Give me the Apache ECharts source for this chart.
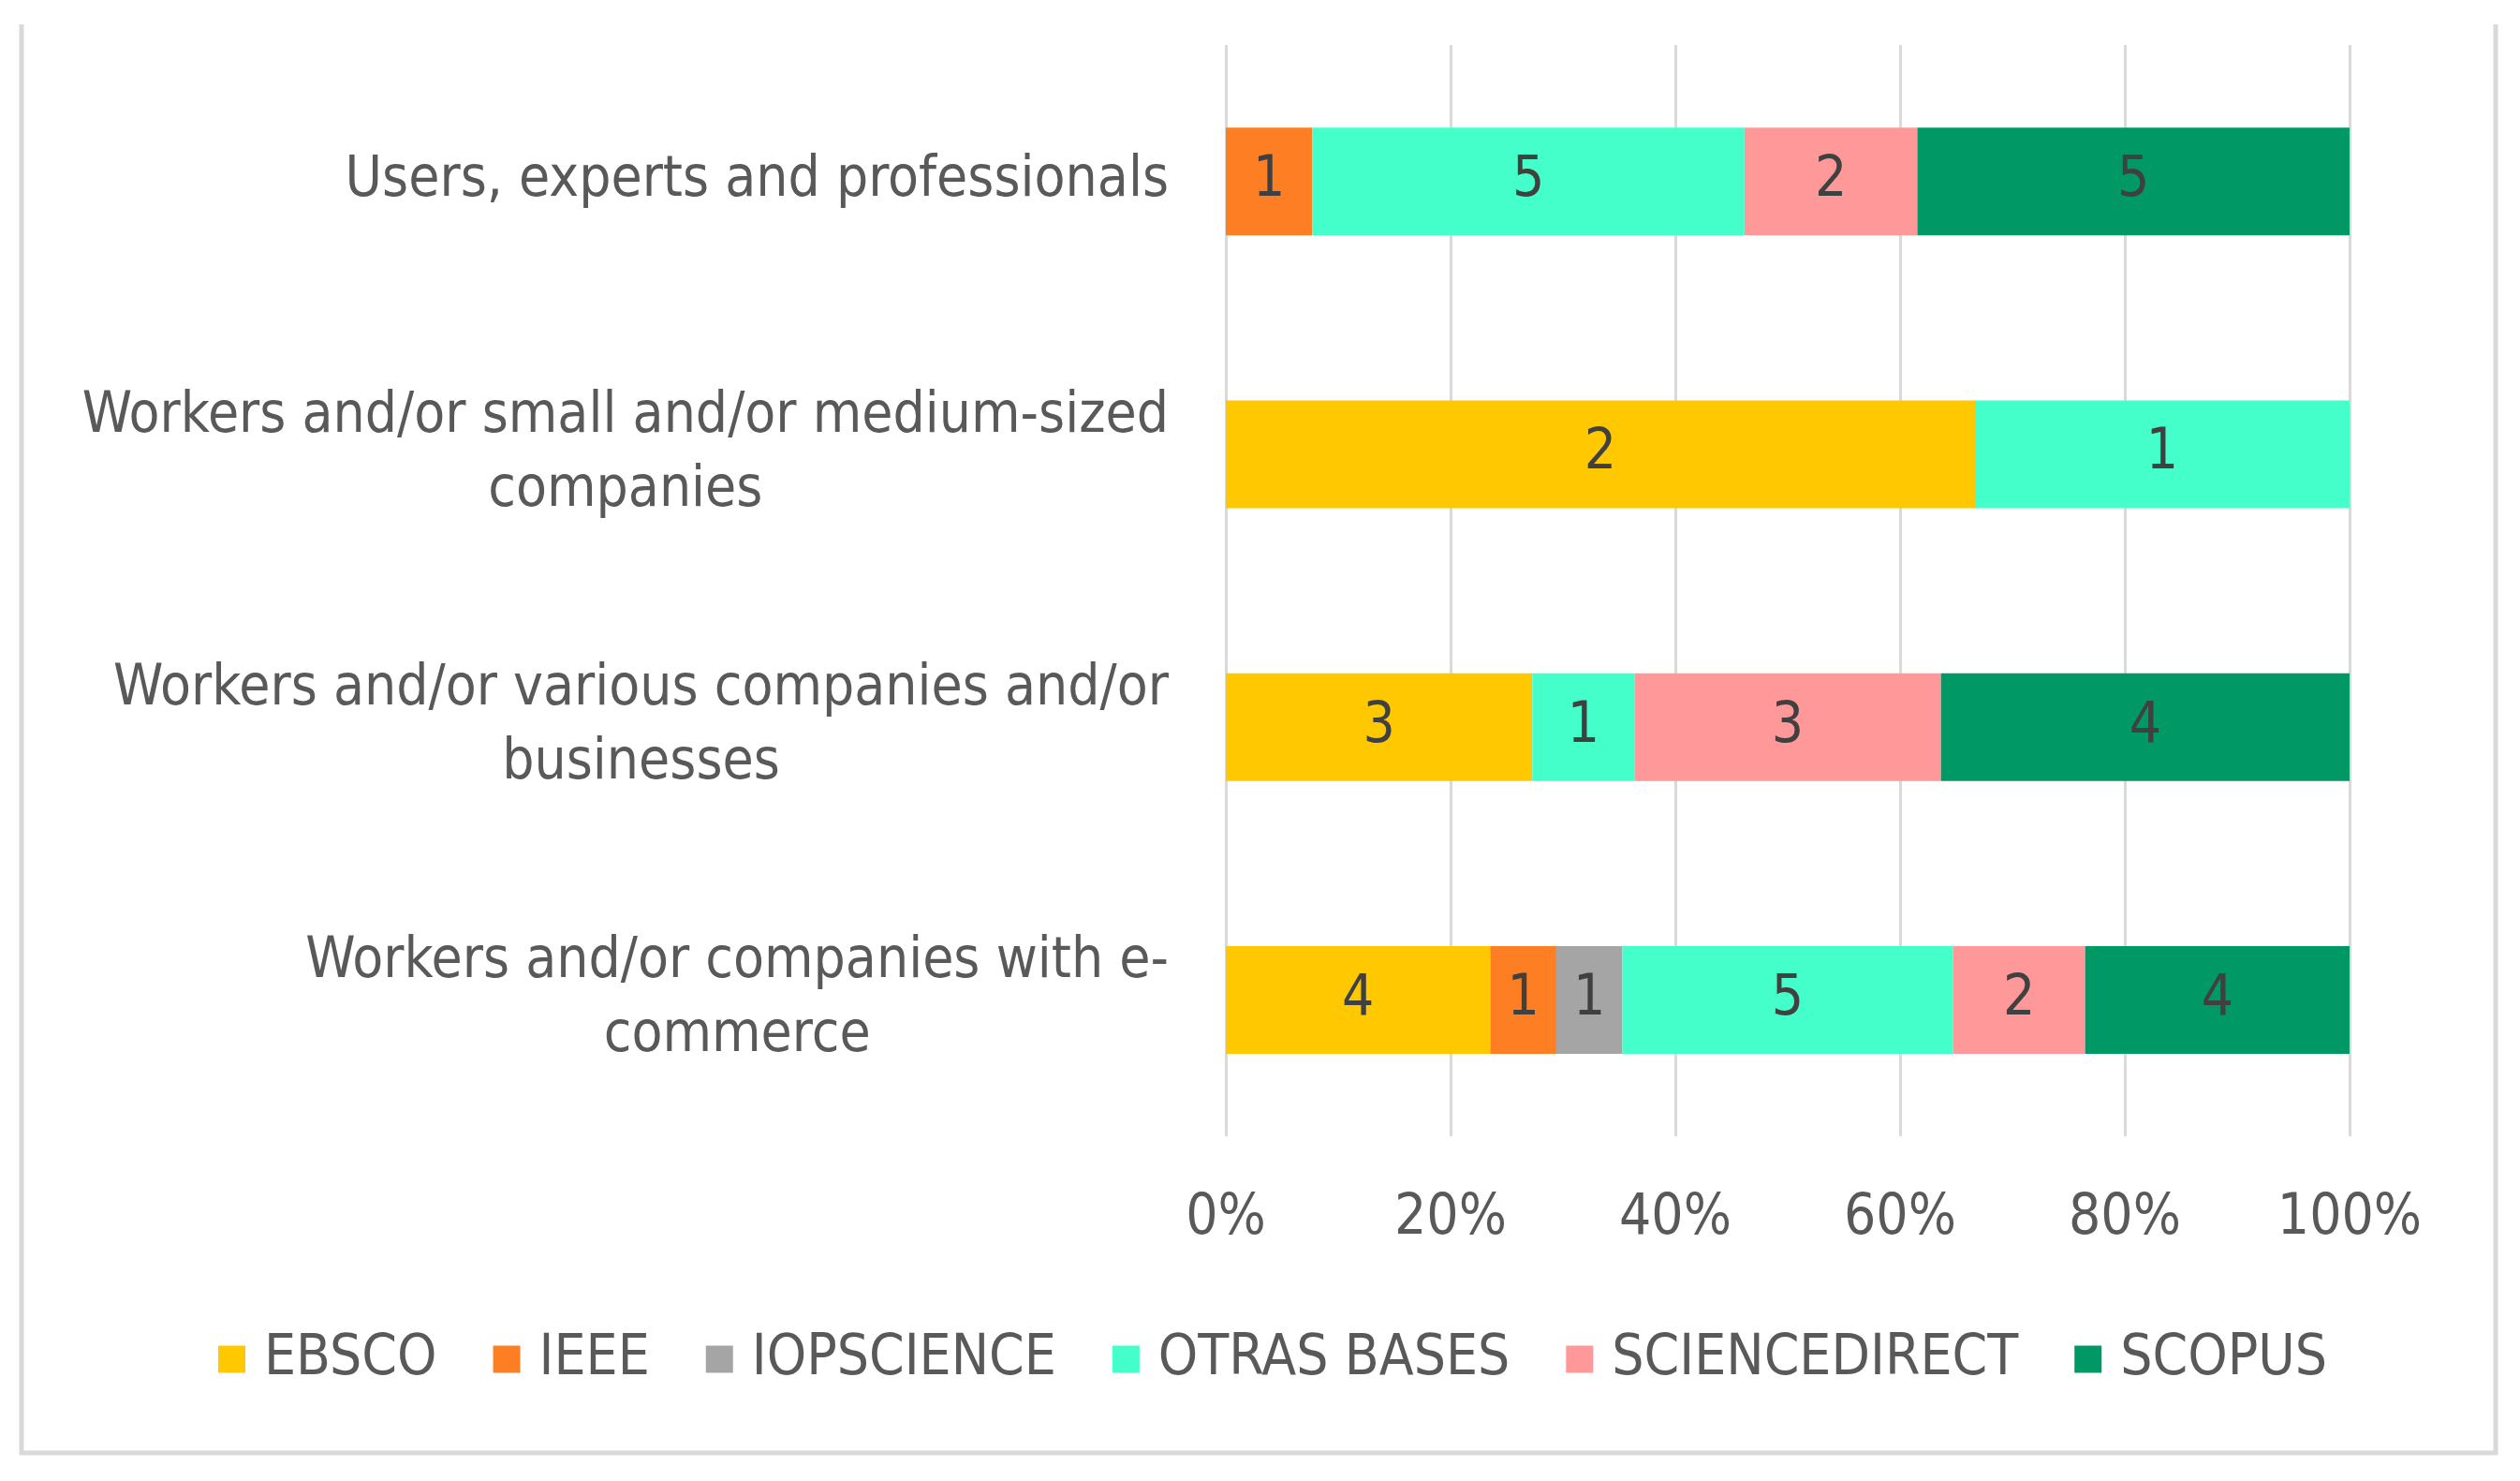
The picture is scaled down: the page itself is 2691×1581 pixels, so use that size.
<!DOCTYPE html>
<html>
<head>
<meta charset="utf-8">
<title>Stacked share of sources by study population</title>
<script src="https://cdn.jsdelivr.net/npm/echarts@6/dist/echarts.min.js"></script>
<style>
  html, body { margin: 0; padding: 0; background: #fff; }
  #chart { width: 2691px; height: 1581px; }
</style>
</head>
<body>
<div id="chart"></div>
<script>
'use strict';

// categories, top to bottom as in the figure
const categories = [
    'Users, experts and professionals',
    'Workers and/or small and/or medium-sized\ncompanies',
    'Workers and/or various companies and/or\nbusinesses',
    'Workers and/or companies with e-\ncommerce'
];

const sources = ['EBSCO', 'IEEE', 'IOPSCIENCE', 'OTRAS BASES', 'SCIENCEDIRECT', 'SCOPUS'];

// number of papers per category (same order as categories)
const ebsco         = [0, 2, 3, 4];
const ieee          = [1, 0, 0, 1];
const iopscience    = [0, 0, 0, 1];
const otrasBases    = [5, 1, 1, 5];
const sciencedirect = [2, 0, 3, 2];
const scopus        = [5, 0, 4, 4];

const xTicks = [0, 20, 40, 60, 80, 100];

const counts = [ebsco, ieee, iopscience, otrasBases, sciencedirect, scopus];
const colors = ['#FFC800', '#FD7E23', '#A5A5A5', '#45FFCB', '#FF9999', '#009966'];

const FONT = "'Liberation Sans Narrow', 'DejaVu Sans Condensed', 'Liberation Sans', sans-serif";
const FS = 60;
const LABEL_COLOR = '#595959';

// totals per category -> 100% stacked
const totals = categories.map((c, i) => counts.reduce((s, arr) => s + arr[i], 0));

const series = sources.map((name, k) => ({
    name: name,
    type: 'bar',
    stack: 'all',
    barWidth: 115,
    itemStyle: {color: colors[k]},
    label: {
        show: true,
        position: 'inside',
        color: '#404040',
        fontFamily: FONT,
        fontSize: FS,
        formatter: p => p.data.count ? String(p.data.count) : ''
    },
    emphasis: {disabled: true},
    data: counts[k].map((n, i) => ({value: n / totals[i] * 100, count: n}))
}));

const chart = echarts.init(document.getElementById('chart'));

chart.setOption({
    animation: false,
    backgroundColor: '#fff',
    grid: {left: 1309, right: 182, top: 48, bottom: 368, containLabel: false},
    xAxis: {
        type: 'value',
        min: xTicks[0],
        max: xTicks[xTicks.length - 1],
        interval: xTicks[1] - xTicks[0],
        axisLine: {show: false},
        axisTick: {show: false},
        splitLine: {show: true, lineStyle: {color: '#D9D9D9', width: 3}},
        axisLabel: {
            formatter: '{value}%',
            color: LABEL_COLOR,
            fontFamily: FONT,
            fontSize: FS,
            margin: 58
        }
    },
    yAxis: {
        type: 'category',
        inverse: true,
        data: categories,
        axisLine: {show: false},
        axisTick: {show: false},
        splitLine: {show: false},
        axisLabel: {
            margin: 61,
            formatter: v => v.split('\n').map(l => '{c|' + l + '}').join('\n'),
            rich: {
                c: {
                    align: 'center',
                    color: LABEL_COLOR,
                    fontFamily: FONT,
                    fontSize: FS,
                    lineHeight: 79
                }
            }
        }
    },
    legend: {
        data: sources,
        left: 228,
        top: 1416,
        icon: 'rect',
        itemWidth: 29,
        itemHeight: 29,
        itemGap: 60,
        textStyle: {color: LABEL_COLOR, fontFamily: FONT, fontSize: FS, padding: [0, 0, 0, 15]},
        selectedMode: false
    },
    graphic: [{
        type: 'polyline',
        shape: {points: [[23, 26], [23, 1551], [2665, 1551], [2665, 26]]},
        style: {stroke: '#D9D9D9', lineWidth: 5, fill: null},
        silent: true
    }],
    series: series
});
</script>
</body>
</html>
